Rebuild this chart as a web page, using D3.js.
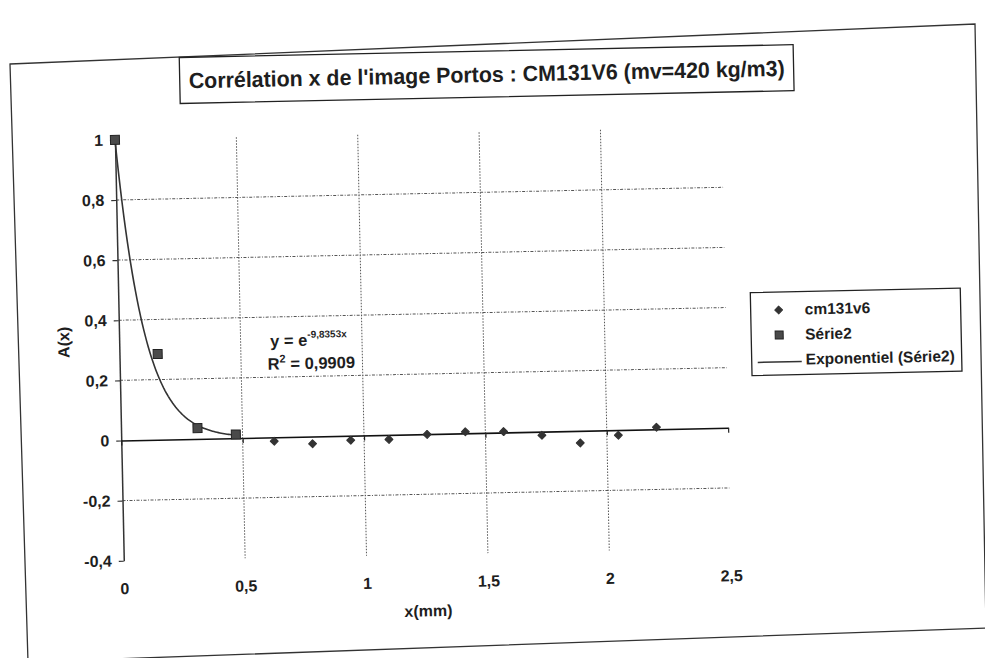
<!DOCTYPE html>
<html>
<head>
<meta charset="utf-8">
<script src="https://cdn.jsdelivr.net/npm/d3@7"></script>
<style>
  body { margin: 0; background: #fff; }
  text { font-family: "Liberation Sans", Arial, sans-serif; font-weight: bold; fill: #1e1e1e; }
</style>
</head>
<body>
<div id="chart"></div>
<script>
// series cm131v6 (measured autocorrelation, the visible tail)
const cmX = [0.63, 0.7875, 0.945, 1.1025, 1.26, 1.4175, 1.575, 1.7325, 1.89, 2.0475, 2.205];
const cmY = [-0.013, -0.024, -0.015, -0.015, -0.001, 0.005, 0.003, -0.012, -0.04, -0.017, 0.007];

// series Série2 (first lags, used for the exponential fit)
const s2X = [0, 0.1575, 0.315, 0.4725];
const s2Y = [1, 0.285, 0.036, 0.012];

// exponential trend y = e^(k x)
const fitK = -9.8353;
const fitR2 = "0,9909";

const xTicks = [0, 0.5, 1, 1.5, 2, 2.5];
const xTickLabels = ["0", "0,5", "1", "1,5", "2", "2,5"];
const yTicks = [-0.4, -0.2, 0, 0.2, 0.4, 0.6, 0.8, 1];
const yTickLabels = ["-0,4", "-0,2", "0", "0,2", "0,4", "0,6", "0,8", "1"];
const xGrid = [0.5, 1, 1.5, 2];
const yGrid = [-0.2, 0.2, 0.4, 0.6, 0.8];

const legendNames = ["cm131v6", "Série2", "Exponentiel (Série2)"];

const W = 985, H = 658;
const ink = "#222";

const svg = d3.select("#chart").append("svg")
  .attr("width", W)
  .attr("height", H);

svg.append("rect").attr("width", W).attr("height", H).attr("fill", "#fff");

// the scanned page border (slightly skewed)
const frame = [[10, 64], [975, 24], [986, 628], [28, 662]];
svg.append("path")
  .attr("d", d3.line()(frame) + "Z")
  .attr("fill", "none")
  .attr("stroke", "#333")
  .attr("stroke-width", 1.3);

// whole chart is a little rotated on the scan
const g = svg.append("g").attr("transform", "rotate(-1.2,492,329)");

const x = d3.scaleLinear().domain([0, 2.5]).range([119, 726]);
const y = d3.scaleLinear().domain([-0.4, 1]).range([553, 132]);

// title box
g.append("rect")
  .attr("x", 185).attr("y", 51)
  .attr("width", 614).attr("height", 46)
  .attr("fill", "#fff")
  .attr("stroke", ink)
  .attr("stroke-width", 1.3);
g.append("text")
  .attr("x", 492).attr("y", 82)
  .attr("text-anchor", "middle")
  .attr("font-size", 22)
  .attr("textLength", 596)
  .attr("lengthAdjust", "spacingAndGlyphs")
  .text("Corrélation x de l'image Portos : CM131V6 (mv=420 kg/m3)");

// grid
g.append("g").selectAll("line")
  .data(yGrid)
  .enter().append("line")
  .attr("x1", x(0)).attr("x2", x(2.5))
  .attr("y1", d => y(d)).attr("y2", d => y(d))
  .attr("stroke", "#555")
  .attr("stroke-width", 1)
  .attr("stroke-dasharray", "3,1.5,1,1.5");

g.append("g").selectAll("line")
  .data(xGrid)
  .enter().append("line")
  .attr("x1", d => x(d)).attr("x2", d => x(d))
  .attr("y1", y(1)).attr("y2", y(-0.4))
  .attr("stroke", "#555")
  .attr("stroke-width", 1)
  .attr("stroke-dasharray", "1.5,1.5");

// y axis
const yAxis = g.append("g")
  .attr("transform", `translate(${x(0)},0)`)
  .call(d3.axisLeft(y)
    .tickValues(yTicks)
    .tickFormat((d, i) => yTickLabels[i])
    .tickSize(5)
    .tickSizeOuter(0)
    .tickPadding(7));
yAxis.select(".domain").attr("stroke", "#333").attr("stroke-width", 1.5);
yAxis.selectAll(".tick line").attr("stroke", "#333").attr("stroke-width", 1.2);
yAxis.selectAll("text")
  .attr("font-size", 16)
  .attr("font-family", "Liberation Sans, Arial, sans-serif")
  .attr("font-weight", "bold")
  .attr("fill", ink);

// x axis line crossing at 0
const xAxis = g.append("g")
  .attr("transform", `translate(0,${y(0)})`)
  .call(d3.axisBottom(x)
    .tickValues(xTicks)
    .tickFormat("")
    .tickSize(5)
    .tickSizeOuter(0));
xAxis.select(".domain").attr("stroke", "#111").attr("stroke-width", 1.6);
xAxis.selectAll(".tick line").attr("stroke", "#222").attr("stroke-width", 1.2);

// x tick labels sit below the plot area
const xLabels = g.append("g")
  .attr("transform", `translate(0,${y(-0.4)})`)
  .call(d3.axisBottom(x)
    .tickValues(xTicks)
    .tickFormat((d, i) => xTickLabels[i])
    .tickSize(0)
    .tickPadding(22));
xLabels.select(".domain").remove();
xLabels.selectAll("text")
  .attr("font-size", 16)
  .attr("font-family", "Liberation Sans, Arial, sans-serif")
  .attr("font-weight", "bold")
  .attr("fill", ink);

// axis titles
g.append("text")
  .attr("transform", `translate(69,${y(0.33)}) rotate(-90)`)
  .attr("text-anchor", "middle")
  .attr("font-size", 16)
  .text("A(x)");
g.append("text")
  .attr("x", (x(0) + x(2.5)) / 2)
  .attr("y", 615)
  .attr("text-anchor", "middle")
  .attr("font-size", 16)
  .text("x(mm)");

// exponential trend line over the Série2 range
const trendX = d3.range(0, 80).map(i => i / 79 * s2X[s2X.length - 1]);
const trendLine = d3.line()
  .x(d => x(d))
  .y(d => y(Math.exp(fitK * d)));
g.append("path")
  .datum(trendX)
  .attr("d", trendLine)
  .attr("fill", "none")
  .attr("stroke", "#333")
  .attr("stroke-width", 1.6);

// cm131v6 markers: small blobs (square turned 45°)
const dot = d3.symbol().type(d3.symbolSquare).size(30);
g.append("g").selectAll("path")
  .data(cmX.map((d, i) => [d, cmY[i]]))
  .enter().append("path")
  .attr("d", dot)
  .attr("transform", d => `translate(${x(d[0])},${y(d[1])}) rotate(45)`)
  .attr("fill", "#333")
  .attr("stroke", "#333")
  .attr("stroke-width", 1.2)
  .attr("stroke-linejoin", "round");

// Série2 markers
g.append("g").selectAll("rect")
  .data(s2X.map((d, i) => [d, s2Y[i]]))
  .enter().append("rect")
  .attr("x", d => x(d[0]) - 4.5)
  .attr("y", d => y(d[1]) - 4.5)
  .attr("width", 9).attr("height", 9)
  .attr("fill", "#4a4a4a")
  .attr("stroke", "#222")
  .attr("stroke-width", 1);

// fit equation
const eq = g.append("text")
  .attr("x", 270).attr("y", 342)
  .attr("font-size", 16.5);
eq.append("tspan").text("y = e");
eq.append("tspan")
  .attr("dy", -8)
  .attr("font-size", 10)
  .text(d3.format(".4f")(fitK).replace(".", ",").replace("−", "-") + "x");

const r2 = g.append("text")
  .attr("x", 267).attr("y", 365)
  .attr("font-size", 16.5);
r2.append("tspan").text("R");
r2.append("tspan").attr("dy", -7).attr("font-size", 11).text("2");
r2.append("tspan").attr("dy", 7).text(" = " + fitR2);

// legend
const legend = g.append("g");
legend.append("rect")
  .attr("x", 751).attr("y", 298)
  .attr("width", 210).attr("height", 83)
  .attr("fill", "#fff")
  .attr("stroke", ink)
  .attr("stroke-width", 1.3);

const rowY = d3.scalePoint().domain(legendNames).range([316, 366]);

legend.append("path")
  .attr("d", dot)
  .attr("transform", `translate(779,${rowY(legendNames[0])}) rotate(45)`)
  .attr("fill", "#333")
  .attr("stroke", "#333")
  .attr("stroke-linejoin", "round");
legend.append("rect")
  .attr("x", 775).attr("y", rowY(legendNames[1]) - 4)
  .attr("width", 8).attr("height", 8)
  .attr("fill", "#4a4a4a")
  .attr("stroke", "#222");
legend.append("line")
  .attr("x1", 757).attr("x2", 801)
  .attr("y1", rowY(legendNames[2]) + 2).attr("y2", rowY(legendNames[2]) + 2)
  .attr("stroke", "#333")
  .attr("stroke-width", 1.5);

legend.selectAll("text.leg")
  .data(legendNames)
  .enter().append("text")
  .attr("class", "leg")
  .attr("x", 805)
  .attr("y", d => rowY(d) + 5)
  .attr("font-size", 15.5)
  .text(d => d);
</script>
</body>
</html>
